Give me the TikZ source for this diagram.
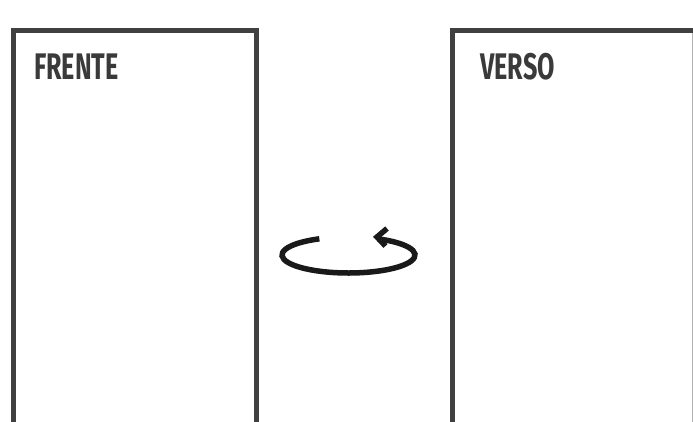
\documentclass[tikz,border=0pt]{standalone}
\usepackage{fontspec}
\newfontfamily\bebas[FakeStretch=0.68]{Fira Sans}
\definecolor{frame}{HTML}{404040}
\definecolor{txt}{HTML}{3A3A3A}
\begin{document}
\begin{tikzpicture}[x=1pt,y=-1pt,
  panel/.style={draw=frame,line width=5pt},
  title/.style={anchor=base west,inner sep=0pt,text=txt,font=\bebas\bfseries\fontsize{37}{37}\selectfont},
  turn/.style={draw=black!90,line width=5.5pt}]
\fill[white] (0,0) rectangle (693,422);
\useasboundingbox (0,0) rectangle (693,422);
% left panel
\draw[panel] (13,430) -- (13,30.5) -- (256,30.5) -- (256,430);
% right panel
\draw[panel] (452.5,430) -- (452.5,30.5) -- (700,30.5);
\draw[gray!60,line width=1pt] (692,33) -- (692,430);
\node[title] (frente) at (34,80) {FRENTE};
\node[title] (verso) at (480,80) {VERSO};
% rotation arrow
\coordinate (c) at (348.5,255);
\draw[turn] ([shift={(244:66.5 and 18)}]c) arc[start angle=244,end angle=-64,x radius=66.5,y radius=18];
\coordinate (tip) at (377,237);
\coordinate (armA) at (387,228.5);
\coordinate (armB) at (385.5,246);
\draw[turn,line join=miter] (armA) -- (tip) -- (armB);
\end{tikzpicture}
\end{document}
